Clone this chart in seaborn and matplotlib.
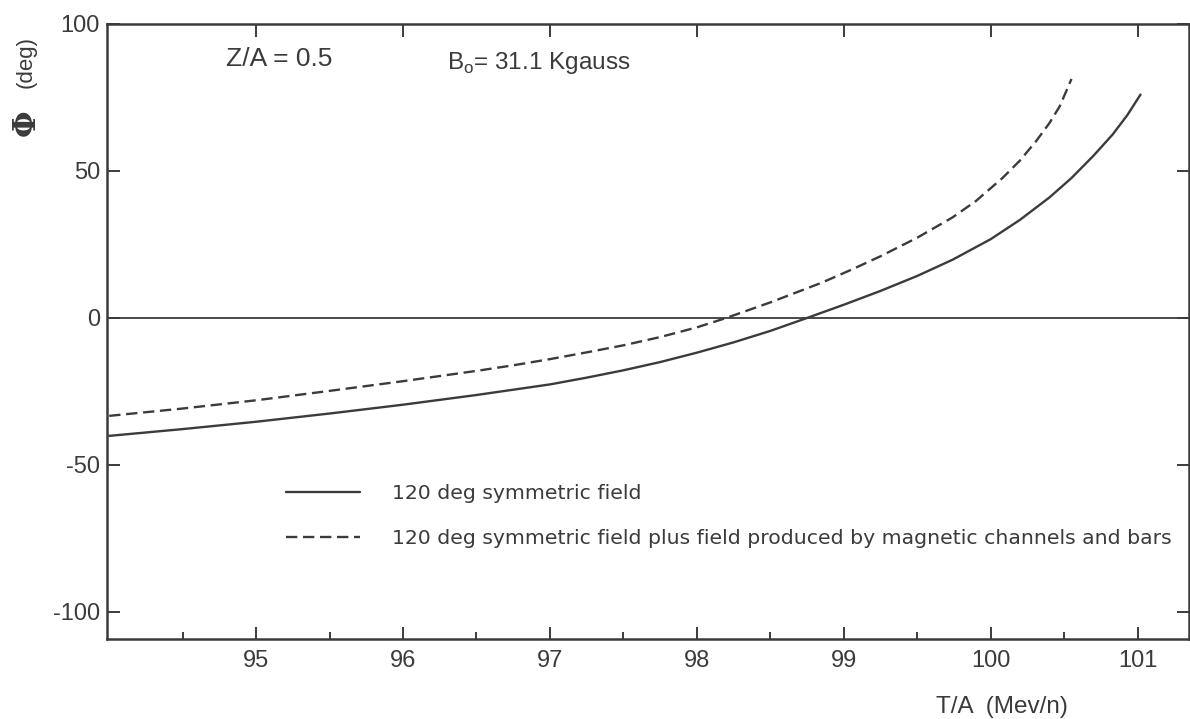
import numpy as np
import pandas as pd
import matplotlib
matplotlib.use("Agg")
import matplotlib.pyplot as plt
import seaborn as sns
from matplotlib.ticker import FixedLocator

# ---------------- data ----------------
sym_label = "120 deg symmetric field"
full_label = "120 deg symmetric field plus field produced by magnetic channels and bars"

energy_sym = [94.0, 94.5, 95.0, 95.5, 96.0, 96.5, 97.0, 97.25, 97.5, 97.75, 98.0,
              98.25, 98.5, 98.75, 99.0, 99.25, 99.5, 99.74, 100.0, 100.2, 100.4,
              100.55, 100.7, 100.83, 100.93, 101.02]
phase_sym = [-40.1, -37.8, -35.3, -32.5, -29.5, -26.2, -22.6, -20.3, -17.8, -15.0, -11.8,
             -8.3, -4.4, 0.0, 4.5, 9.2, 14.3, 19.8, 26.8, 33.4, 41.0,
             47.6, 55.2, 62.4, 69.0, 76.0]

energy_full = [94.0, 94.5, 95.0, 95.5, 96.0, 96.5, 96.75, 97.0, 97.25, 97.5, 97.75,
               98.0, 98.2, 98.5, 98.85, 99.06, 99.25, 99.5, 99.74, 99.9, 100.08,
               100.2, 100.31, 100.4, 100.47, 100.55]
phase_full = [-33.3, -30.8, -28.0, -24.8, -21.5, -18.0, -16.1, -14.0, -11.7, -9.3, -6.5,
              -3.2, 0.0, 5.3, 12.0, 16.6, 21.0, 27.3, 34.2, 39.8, 47.6,
              53.6, 60.2, 66.3, 72.0, 81.3]

x_ticks = [95, 96, 97, 98, 99, 100, 101]
x_minor_ticks = [94.5, 95.5, 96.5, 97.5, 98.5, 99.5, 100.5]
y_ticks = [100, 50, 0, -50, -100]
y_tick_labels = ["100", "50", "0", "-50", "-100"]

# ---------------- style ----------------
sns.set_style("ticks")
plt.rcParams["font.family"] = ["Liberation Sans", "DejaVu Sans"]
ink = "#3b3b3b"
plt.rcParams["text.color"] = ink
plt.rcParams["axes.edgecolor"] = ink
plt.rcParams["xtick.color"] = ink
plt.rcParams["ytick.color"] = ink
plt.rcParams["mathtext.fontset"] = "custom"
plt.rcParams["mathtext.rm"] = "Liberation Sans"

df = pd.concat([
    pd.DataFrame({"T": energy_sym, "phi": phase_sym, "field": sym_label}),
    pd.DataFrame({"T": energy_full, "phi": phase_full, "field": full_label}),
], ignore_index=True)

fig = plt.figure(figsize=(11.9, 7.19), dpi=100)
ax = fig.add_axes([107 / 1190, 80 / 719, 1082 / 1190, 615 / 719])

ax.axhline(0, color=ink, lw=1.3, zorder=1)

sns.lineplot(data=df, x="T", y="phi", hue="field", style="field",
             palette=[ink, ink], dashes={sym_label: "", full_label: (4.8, 2.4)},
             linewidth=1.7, sort=False, estimator=None, ax=ax)
for ln in ax.get_lines():
    ln.set_solid_joinstyle("round")

ax.set_xlim(93.985, 101.35)
ax.set_ylim(-109.2, 100)
ax.set_xlabel("")
ax.set_ylabel("")

ax.xaxis.set_major_locator(FixedLocator(x_ticks))
ax.xaxis.set_minor_locator(FixedLocator(x_minor_ticks))
ax.set_yticks(y_ticks)
ax.set_yticklabels(y_tick_labels)
ax.tick_params(axis="both", which="both", direction="in", top=True, right=True,
               labelsize=17, width=1.4)
ax.tick_params(axis="x", which="major", length=9, pad=8)
ax.tick_params(axis="x", which="minor", length=5, top=False)
ax.tick_params(axis="y", which="major", length=9, pad=5)
for s in ax.spines.values():
    s.set_linewidth(1.8)

# legend
handles, labels = ax.get_legend_handles_labels()
leg = ax.legend(handles, labels, loc="upper left", bbox_to_anchor=(0.165, 0.2517),
                frameon=False, handlelength=3.63, handletextpad=1.57,
                labelspacing=1.25, borderpad=0, borderaxespad=0,
                prop={"family": "DejaVu Sans", "size": 14.7})
for t in leg.get_texts():
    t.set_color(ink)

# annotations
ax.text(0.110, 0.943, "Z/A = 0.5", transform=ax.transAxes, fontsize=19,
        ha="left", va="center")
ax.text(0.314, 0.937, r"B$_\mathregular{o}$= 31.1 Kgauss", transform=ax.transAxes,
        fontsize=17.5, ha="left", va="center")

fig.text(1002 / 1190, 1 - 707 / 719, "T/A  (Mev/n)", fontsize=17.5, ha="center", va="center")
fig.text(26 / 1190, 1 - 62 / 719, "(deg)", fontsize=16, rotation=90,
         ha="center", va="center")
fig.text(26 / 1190, 1 - 123 / 719, "Φ", fontsize=22, rotation=90, family="DejaVu Serif",
         weight="bold", ha="center", va="center")

fig.savefig("out.png", dpi=100, facecolor="white")
